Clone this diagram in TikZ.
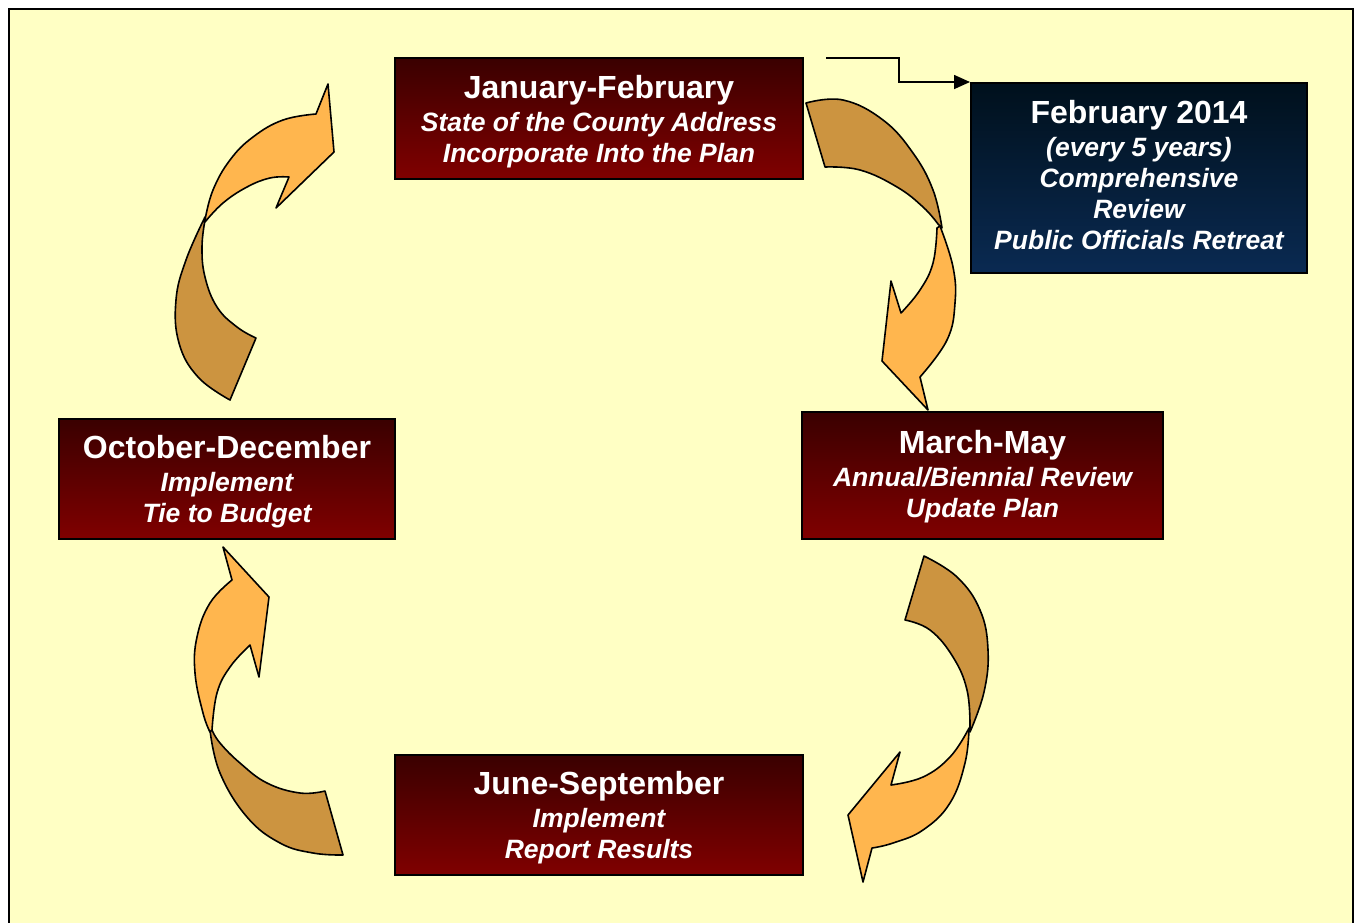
\documentclass[tikz,border=0pt]{standalone}
\usepackage{fontspec}
\setmainfont{Liberation Sans}
\usetikzlibrary{arrows.meta}
\definecolor{bgyellow}{HTML}{FFFFC4}
\definecolor{lightarr}{HTML}{FFB64E}
\definecolor{darkarr}{HTML}{CC9440}
\definecolor{redtop}{HTML}{3A0000}
\definecolor{redbot}{HTML}{800000}
\definecolor{bluetop}{HTML}{00101C}
\definecolor{bluebot}{HTML}{0A2A52}
\tikzset{
  phasebox/.style={draw=black, line width=2pt, top color=redtop, bottom color=redbot, inner sep=0pt},
  reviewbox/.style={phasebox, top color=bluetop, bottom color=bluebot},
  phasetext/.style={text=white, align=center, inner sep=0pt, font=\fontsize{26.5}{31}\selectfont\bfseries\itshape},
  lightpart/.style={fill=lightarr, draw=black, line width=1.6pt, line join=round},
  darkpart/.style={fill=darkarr, draw=black, line width=1.6pt, line join=round},
  conn/.style={draw=black, line width=1.6pt, -{Triangle[length=16pt,width=14pt]}},
  smoothplot/.style={smooth, tension=0.7}
}
\newcommand{\ttl}[1]{{\fontsize{32}{34}\selectfont\bfseries\upshape #1}}
\begin{document}
\begin{tikzpicture}[x=1pt,y=-1pt]
\useasboundingbox (0,0) rectangle (1359,922);
\fill[white] (0,0) rectangle (1359,922);
\begin{scope}
\clip (0,0) rectangle (1359,922);
\draw[line width=2.2pt, fill=bgyellow] (9,9) rectangle (1353,940);
\end{scope}

% curved arrows: top-left
\path[darkpart] plot[smoothplot] coordinates {(205,217) (186,260) (176,300) (179,343) (198,377) (230,400)}
  -- (256,338)
  -- plot[smoothplot] coordinates {(256,338) (237,327) (217,307) (205,277) (202,247) (205,220)} -- cycle;
\path[lightpart] plot[smoothplot] coordinates {(205,220) (213,190) (230,160) (253,137) (283,120) (316,114)}
  -- (328,84) -- (334,152) -- (276,208) -- (289,177)
  -- plot[smoothplot] coordinates {(289,177) (270,178) (247,187) (223,203) (205,222)} -- cycle;

% top-right
\path[darkpart] plot[smoothplot] coordinates {(806,103) (843,100) (883,120) (913,153) (933,190) (942,228)}
  -- plot[smoothplot] coordinates {(938,224) (923,207) (897,187) (860,170) (825,167)} -- cycle;
\path[lightpart] plot[smoothplot] coordinates {(940,226) (953,267) (955,303) (947,340) (920,377)}
  -- (928,410) -- (882,361) -- (891,281) -- (901,313)
  -- plot[smoothplot] coordinates {(901,313) (920,290) (933,263) (937,228)} -- cycle;

% bottom-right
\path[darkpart] plot[smoothplot] coordinates {(924,556) (957,577) (980,610) (988,650) (984,692) (970,732)}
  -- plot[smoothplot] coordinates {(970,727) (967,690) (953,657) (930,630) (905,620)} -- cycle;
\path[lightpart] plot[smoothplot] coordinates {(969,728) (965,763) (950,803) (923,830) (893,843) (872,848)}
  -- (863,882) -- (848,815) -- (900,752) -- (891,785)
  -- plot[smoothplot] coordinates {(891,785) (923,777) (950,757) (968,730)} -- cycle;

% bottom-left
\path[darkpart] plot[smoothplot] coordinates {(210,730) (220,773) (247,817) (280,843) (313,853) (343,855)}
  -- (325,791)
  -- plot[smoothplot] coordinates {(325,791) (300,793) (267,783) (240,763) (220,743) (212,730)} -- cycle;
\path[lightpart] (223,547) -- (269,597) -- (259,677) -- (250,645)
  -- plot[smoothplot] coordinates {(250,645) (230,667) (217,693) (212,730)}
  -- plot[smoothplot] coordinates {(210,732) (203,713) (195,673) (197,637) (210,603) (232,580)} -- cycle;

% boxes
\node[phasebox, minimum width=408pt, minimum height=121pt] (jan) at (599,118.5) {};
\node[phasetext] (jant) at ([yshift=-3pt]jan.center)
  {\ttl{January-February}\\[2pt] State of the County Address\\ Incorporate Into the Plan};
\node[reviewbox, minimum width=336pt, minimum height=190pt] (feb) at (1139,178) {};
\node[phasetext] (febt) at ([yshift=3pt]feb.center)
  {\ttl{February 2014}\\[2pt] (every 5 years)\\ Comprehensive\\ Review\\ Public Officials Retreat};
\node[phasebox, minimum width=361pt, minimum height=127pt] (mar) at (982.5,475.5) {};
\node[phasetext] (mart) at ([yshift=-1pt]mar.center)
  {\ttl{March-May}\\[2pt] Annual/Biennial Review\\ Update Plan};
\node[phasebox, minimum width=408pt, minimum height=120pt] (jun) at (599,815) {};
\node[phasetext] (junt) at ([yshift=-3pt]jun.center)
  {\ttl{June-September}\\[2pt] Implement\\ Report Results};
\node[phasebox, minimum width=336pt, minimum height=120pt] (oct) at (227,479) {};
\node[phasetext] (octt) at ([yshift=-3pt]oct.center)
  {\ttl{October-December}\\[2pt] Implement\\ Tie to Budget};

% connector
\coordinate (c0) at (826,58);
\draw[conn] (c0) -- ++(73,0) |- (feb.north west);
\end{tikzpicture}
\end{document}
